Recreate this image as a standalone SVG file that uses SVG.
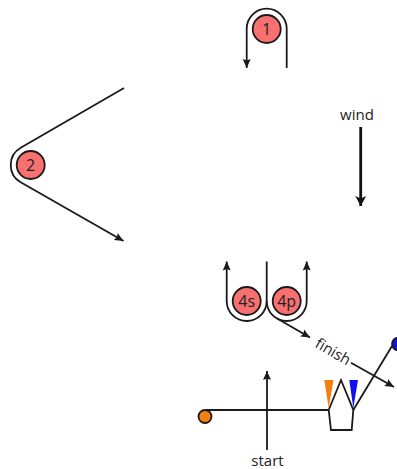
<svg xmlns="http://www.w3.org/2000/svg" width="397" height="469" viewBox="0 0 397 469">
<style>
.l{fill:none;stroke:#1a1a1a;stroke-width:1.8}
.m{fill:#f87070;stroke:#1a1a1a;stroke-width:1.8}
text{font-family:"Open Sans","Noto Sans",sans-serif;font-size:15px;fill:#222;text-anchor:middle}
.n{font-size:16px}
</style>
<defs>
<marker id="a" markerUnits="userSpaceOnUse" markerWidth="10" markerHeight="9" refX="9" refY="4.5" orient="auto"><path d="M0 0.5L9 4.5L0 8.5L1.5 4.5Z" fill="#1a1a1a"/></marker>
<marker id="b" markerUnits="userSpaceOnUse" markerWidth="11" markerHeight="12" refX="10" refY="6" orient="auto"><path d="M0 0.5L10 6L0 11.5L2.5 6Z" fill="#111"/></marker>
</defs>
<g id="connectors">
<path class="l" marker-end="url(#a)" d="M286.7 68V28.7A20 20 0 0 0 246.7 28.7V68"/>
<path class="l" marker-end="url(#a)" d="M124 88L20.7 147.7A20 20 0 0 0 20.7 182.3L123.5 241"/>
<path class="l" marker-end="url(#a)" d="M266.7 301A20 20 0 0 1 226.7 301V261.5"/>
<path class="l" marker-end="url(#a)" d="M266.7 301A20 20 0 0 0 306.7 301V261.5"/>
<path class="l" d="M266.7 261.5V301"/>
<path class="l" marker-end="url(#a)" d="M276.7 318.3L310 337.5"/>
<path class="l" marker-end="url(#a)" d="M351 362.7L394 387"/>
<path class="l" marker-end="url(#a)" d="M267 450V371"/>
<path class="l" d="M206 410H328.7"/>
<path class="l" d="M353.3 410L392 346"/>
<path fill="none" stroke="#111" stroke-width="2.8" marker-end="url(#b)" d="M360.7 127V206"/>
</g>
<g id="mark1"><circle class="m" cx="266.7" cy="29" r="14"/><text class="n" x="266.7" y="34.6">1</text></g>
<g id="mark2"><circle class="m" cx="30.7" cy="165" r="14"/><text class="n" x="30.7" y="170.6">2</text></g>
<g id="mark4s"><circle class="m" cx="246.7" cy="301" r="14"/><text class="n" x="246.7" y="306.6">4s</text></g>
<g id="mark4p"><circle class="m" cx="286.7" cy="301" r="14"/><text class="n" x="286.7" y="306.6">4p</text></g>
<g id="wind"><text x="357" y="120">wind</text></g>
<g id="finish"><text transform="translate(333 351.7) rotate(30)" y="5">finish</text></g>
<g id="start"><text x="267.5" y="466">start</text></g>
<g id="pin-orange"><circle cx="205" cy="416.5" r="6.5" fill="#f47f0f" stroke="#1a1a1a" stroke-width="1.8"/></g>
<g id="pin-blue"><circle cx="398.5" cy="344" r="6.5" fill="#1111ee" stroke="#1a1a1a" stroke-width="1.8"/></g>
<g id="boat">
<path d="M324.3 380H333.5L328.7 408Z" fill="#f47f0f"/>
<path d="M349.3 380H358L353.3 408Z" fill="#1111ee"/>
<path class="l" d="M328.7 410L341 380L353.3 410L351.7 430H331Z"/>
</g>
</svg>
